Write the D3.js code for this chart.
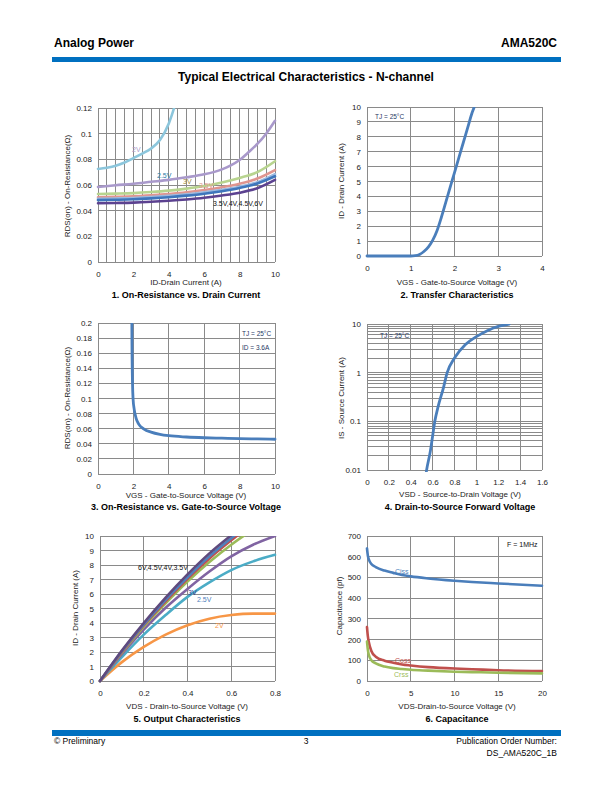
<!DOCTYPE html>
<html><head><meta charset="utf-8">
<script src="https://cdn.jsdelivr.net/npm/d3@7"></script>
<style>
body{margin:0;background:#fff;}
svg{display:block;}
text{font-family:"Liberation Sans",Arial,sans-serif;}
</style></head>
<body>
<script>
// ---------- DATA ----------
// Chart 1: On-Resistance vs Drain Current
const c1X = [0,1,2,3,4,5,6,7,8,9,10];
const c1_2V_x = [0,0.5,1,1.5,2,2.5,3,3.5,4,4.3,4.5];
const c1_2V   = [0.0725,0.0735,0.075,0.0775,0.081,0.0845,0.0885,0.095,0.108,0.12,0.13];
const c1_25V_x = [0,1,2,3,4,5,6,7,7.5,8,8.5,9,9.5,10];
const c1_25V   = [0.0585,0.0598,0.061,0.0625,0.064,0.066,0.0683,0.0722,0.0753,0.0795,0.0855,0.092,0.100,0.110];
const c1_3V   = [0.053,0.0533,0.0537,0.0545,0.0556,0.0572,0.0592,0.062,0.0655,0.070,0.0785];
const c1_35V  = [0.0505,0.0508,0.0512,0.052,0.053,0.0543,0.0561,0.0583,0.061,0.065,0.0716];
const c1_4V   = [0.0492,0.0495,0.0499,0.0506,0.0515,0.0527,0.0543,0.0562,0.0587,0.0622,0.0685];
const c1_45V  = [0.0482,0.0485,0.0489,0.0496,0.0505,0.0517,0.0532,0.0552,0.0577,0.0612,0.0668];
const c1_6V   = [0.0458,0.046,0.0463,0.0469,0.0477,0.0487,0.050,0.0518,0.054,0.0575,0.064];
const c1YTicks = [0,0.02,0.04,0.06,0.08,0.1,0.12];
const c1XTicks = [0,2,4,6,8,10];

// Chart 2: Transfer characteristics
const c2X = [0,0.5,1.0,1.1,1.2,1.3,1.4,1.5,1.6,1.7,1.8,1.9,2.0,2.1,2.2,2.3,2.4,2.45,2.5];
const c2Y = [0,0,0,0.02,0.1,0.3,0.6,1.05,1.7,2.6,3.6,4.6,5.6,6.6,7.6,8.6,9.6,10,10.5];
const c2XTicks = [0,1,2,3,4];
const c2YTicks = [0,1,2,3,4,5,6,7,8,9,10];

// Chart 3: On-Resistance vs VGS
const c3X = [1.9,1.92,1.95,1.98,2.05,2.15,2.3,2.6,3,3.5,4,5,6,7,8,9,10];
const c3Y = [0.25,0.17,0.12,0.1,0.085,0.074,0.066,0.0595,0.0555,0.0525,0.0507,0.049,0.048,0.0474,0.0468,0.0464,0.046];
const c3XTicks = [0,2,4,6,8,10];
const c3YTicks = [0,0.02,0.04,0.06,0.08,0.1,0.12,0.14,0.16,0.18,0.2];

// Chart 4: Drain-to-source forward voltage (log)
const c4X = [0.53,0.545,0.58,0.6,0.62,0.65,0.7,0.733,0.8,0.9,1.0,1.1,1.2,1.3];
const c4Y = [0.006,0.01,0.025,0.05,0.1,0.2,0.5,1,2.0,3.8,5.5,7.3,8.9,10];
const c4XTicks = [0,0.2,0.4,0.6,0.8,1,1.2,1.4,1.6];
const c4YTicks = [0.01,0.1,1,10];

// Chart 5: Output characteristics
const c5X = [0,0.1,0.2,0.3,0.4,0.5,0.6,0.7,0.8];
const c5_6V  = [0,2.1,4.0,5.75,7.35,8.8,10.05,11.2,12.2];
const c5_45V = [0,2.05,3.9,5.6,7.15,8.6,9.85,11.0,12.0];
const c5_4V  = [0,2.0,3.85,5.5,7.05,8.45,9.7,10.85,11.8];
const c5_35V = [0,1.95,3.75,5.35,6.85,8.2,9.4,10.45,11.4];
const c5_3V  = [0,1.85,3.55,5.05,6.35,7.55,8.6,9.4,10.0];
const c5_25V = [0,1.65,3.2,4.55,5.8,6.8,7.65,8.25,8.7];
const c5_2V  = [0,1.3,2.35,3.2,3.85,4.3,4.55,4.65,4.65];
const c5XTicks = [0,0.2,0.4,0.6,0.8];
const c5YTicks = [0,1,2,3,4,5,6,7,8,9,10];

// Chart 6: Capacitance
const c6X = [0,0.1,0.2,0.5,1,2,3,4,5,7,10,12,15,20];
const c6Ciss = [640,605,588,565,550,533,522,512,505,495,484,478,471,460];
const c6Coss = [260,215,190,145,117,98,88,80,75,67,60,57,52,48];
const c6Crss = [190,150,128,100,85,70,62,58,54,50,45,43,40,37];
const c6XTicks = [0,5,10,15,20];
const c6YTicks = [0,100,200,300,400,500,600,700];

// ---------- DRAW ----------
const svg = d3.select("body").append("svg").attr("width",612).attr("height",792);
svg.append("rect").attr("width",612).attr("height",792).attr("fill","#fff");

// Header / footer
const BLUE = "#0070c0";
svg.append("text").attr("x",54).attr("y",47).attr("font-size",12).attr("font-weight","bold").text("Analog Power");
svg.append("text").attr("x",557).attr("y",47).attr("text-anchor","end").attr("font-size",12).attr("font-weight","bold").text("AMA520C");
svg.append("rect").attr("x",52).attr("y",57).attr("width",509).attr("height",5).attr("fill",BLUE);
svg.append("text").attr("x",306).attr("y",81).attr("text-anchor","middle").attr("font-size",12).attr("font-weight","bold").text("Typical Electrical Characteristics - N-channel");
svg.append("rect").attr("x",52).attr("y",730).attr("width",509).attr("height",6).attr("fill",BLUE);
svg.append("text").attr("x",54).attr("y",744).attr("font-size",8.5).text("© Preliminary");
svg.append("text").attr("x",306).attr("y",744).attr("text-anchor","middle").attr("font-size",8.5).text("3");
svg.append("text").attr("x",557).attr("y",744).attr("text-anchor","end").attr("font-size",8.5).text("Publication Order Number:");
svg.append("text").attr("x",557).attr("y",756).attr("text-anchor","end").attr("font-size",8.5).text("DS_AMA520C_1B");

let clipId = 0;
function panel(o){
  const g = svg.append("g");
  const x = d3.scaleLinear().domain(o.xd).range([o.l,o.r]);
  const y = (o.log ? d3.scaleLog() : d3.scaleLinear()).domain(o.yd).range([o.b,o.t]);
  const gridC = o.gridColor || "#8a8a8a";
  // grid
  g.selectAll(null).data(o.xGrid).join("line")
    .attr("x1",d=>x(d)).attr("x2",d=>x(d)).attr("y1",o.t).attr("y2",o.b)
    .attr("stroke",gridC).attr("stroke-width",1).attr("shape-rendering","crispEdges");
  g.selectAll(null).data(o.yGrid).join("line")
    .attr("y1",d=>y(d)).attr("y2",d=>y(d)).attr("x1",o.l).attr("x2",o.r)
    .attr("stroke",gridC).attr("stroke-width",1).attr("shape-rendering","crispEdges");
  // axes
  const ax = g.append("g").attr("transform",`translate(0,${o.b})`)
    .call(d3.axisBottom(x).tickValues(o.xTicks).tickSize(0).tickPadding(o.xPad||9).tickFormat(o.xFmt||(d=>d)));
  const ay = g.append("g").attr("transform",`translate(${o.l},0)`)
    .call(d3.axisLeft(y).tickValues(o.yTicks).tickSize(0).tickPadding(o.yPad||6).tickFormat(o.yFmt||(d=>d)));
  [ax,ay].forEach(a=>{a.select(".domain").remove();
    a.selectAll("text").attr("font-family","Liberation Sans, Arial, sans-serif").attr("font-size",8).attr("fill","#222");});
  // titles
  g.append("text").attr("x",o.xtX).attr("y",o.xtY).attr("text-anchor","middle").attr("font-size",8).attr("fill","#222").text(o.xTitle);
  g.append("text").attr("transform",`translate(${o.ytX},${o.ytY}) rotate(-90)`).attr("text-anchor","middle").attr("font-size",8).attr("fill","#222").text(o.yTitle);
  g.append("text").attr("x",o.ctX).attr("y",o.ctY).attr("text-anchor","middle").attr("font-size",9).attr("font-weight","bold").attr("fill","#000").text(o.cTitle);
  // clip
  const id = "clip"+(clipId++);
  svg.append("clipPath").attr("id",id).append("rect").attr("x",o.l-2).attr("y",o.t).attr("width",o.r-o.l+4).attr("height",o.b-o.t+2);
  const lg = g.append("g").attr("clip-path",`url(#${id})`);
  o.series.forEach(s=>{
    const pts = s.x.map((v,i)=>[v,s.y[i]]);
    lg.append("path").datum(pts)
      .attr("d",d3.line().x(d=>x(d[0])).y(d=>y(d[1])).curve(d3.curveMonotoneX))
      .attr("fill","none").attr("stroke",s.c).attr("stroke-width",s.w||2.6).attr("stroke-linecap","round");
  });
  (o.labels||[]).forEach(t=>{
    g.append("text").attr("x",t.x).attr("y",t.y).attr("font-size",t.fs||7).attr("fill",t.c)
      .attr("font-family",'"Open Sans", "Noto Sans", sans-serif').text(t.t);
  });
  return {x,y};
}

const range = (a,b,s)=>d3.range(a,b+s/2,s);
const fmt2 = d=> d===0?"0":String(+d.toFixed(2));

// Chart 1
panel({l:98,r:275,t:108,b:262,xd:[0,10],yd:[0,0.12],
  xGrid:range(0,10,0.5), yGrid:c1YTicks, xTicks:c1XTicks, yTicks:c1YTicks, yFmt:fmt2,
  xTitle:"ID-Drain Current (A)", xtX:186, xtY:285,
  yTitle:"RDS(on) - On-Resistance(Ω)", ytX:70, ytY:186,
  cTitle:"1. On-Resistance vs. Drain Current", ctX:186, ctY:298,
  series:[
    {x:c1_2V_x,y:c1_2V,c:"#8cc6dc"},
    {x:c1_25V_x,y:c1_25V,c:"#a999cb"},
    {x:c1X,y:c1_3V,c:"#b8d48f"},
    {x:c1X,y:c1_35V,c:"#e0958f"},
    {x:c1X,y:c1_4V,c:"#9cb9de"},
    {x:c1X,y:c1_45V,c:"#3e76bc"},
    {x:c1X,y:c1_6V,c:"#5c4290"}],
  labels:[
    {x:132,y:152,t:"2V",c:"#a999cb"},
    {x:157,y:178,t:"2.5V",c:"#2a7ca6"},
    {x:183,y:184,t:"3V",c:"#9a8b3c"},
    {x:199,y:188,t:"3.5V",c:"#e0958f"},
    {x:213,y:206,t:"3.5V,4V,4.5V,6V",c:"#111"}]
});

// Chart 2
panel({l:367,r:542,t:107,b:256,xd:[0,4],yd:[0,10],
  xGrid:c2XTicks, yGrid:c2YTicks, xTicks:c2XTicks, yTicks:c2YTicks,
  xTitle:"VGS - Gate-to-Source Voltage (V)", xtX:457, xtY:285,
  yTitle:"ID - Drain Current (A)", ytX:344, ytY:181,
  cTitle:"2. Transfer Characteristics", ctX:457, ctY:298,
  series:[{x:c2X,y:c2Y,c:"#4a7ebb",w:2.8}],
  labels:[{x:375,y:119,t:"TJ = 25°C",c:"#1f3864",fs:6.5}]
});

// Chart 3
panel({l:98,r:275,t:323,b:474,xd:[0,10],yd:[0,0.2],
  xGrid:c3XTicks, yGrid:c3YTicks, xTicks:c3XTicks, yTicks:c3YTicks, yFmt:fmt2,
  xTitle:"VGS - Gate-to-Source Voltage (V)", xtX:186, xtY:498,
  yTitle:"RDS(on) - On-Resistance(Ω)", ytX:70, ytY:398,
  cTitle:"3. On-Resistance vs. Gate-to-Source Voltage", ctX:186, ctY:510,
  series:[{x:c3X,y:c3Y,c:"#4a7ebb",w:2.8}],
  labels:[{x:242,y:336,t:"TJ = 25°C",c:"#1f3864",fs:6.5},{x:242,y:350,t:"ID = 3.6A",c:"#1f3864",fs:6.5}]
});

// Chart 4
const c4grid = [];
[0.01,0.1,1].forEach(d=>{for(let k=1;k<10;k++) c4grid.push(d*k);}); c4grid.push(10);
panel({l:367,r:542,t:324,b:470,xd:[0,1.6],yd:[0.01,10],log:true,
  xGrid:c4XTicks, yGrid:c4grid, xTicks:c4XTicks, yTicks:c4YTicks, yFmt:d=>String(d),
  xTitle:"VSD - Source-to-Drain Voltage (V)", xtX:460, xtY:497,
  yTitle:"IS - Source Current (A)", ytX:344, ytY:398,
  cTitle:"4. Drain-to-Source Forward Voltage", ctX:460, ctY:510,
  series:[{x:c4X,y:c4Y,c:"#4a7ebb",w:2.8}],
  labels:[{x:380,y:338,t:"TJ = 25°C",c:"#1f3864",fs:6.5}]
});

// Chart 5
panel({l:100,r:275,t:536,b:681,xd:[0,0.8],yd:[0,10],
  xGrid:c5XTicks, yGrid:c5YTicks, xTicks:c5XTicks, yTicks:c5YTicks,
  xTitle:"VDS - Drain-to-Source Voltage (V)", xtX:187, xtY:709,
  yTitle:"ID - Drain Current (A)", ytX:78, ytY:608,
  cTitle:"5. Output Characteristics", ctX:187, ctY:722,
  series:[
    {x:c5X,y:c5_2V,c:"#f79646"},
    {x:c5X,y:c5_25V,c:"#4bacc6"},
    {x:c5X,y:c5_3V,c:"#8064a2"},
    {x:c5X,y:c5_35V,c:"#9bbb59"},
    {x:c5X,y:c5_4V,c:"#c0504d"},
    {x:c5X,y:c5_45V,c:"#4f81bd"},
    {x:c5X,y:c5_6V,c:"#5f4a7e"}],
  labels:[
    {x:138,y:570,t:"6V,4.5V,4V,3.5V",c:"#111"},
    {x:188,y:595,t:"3V",c:"#3b3b8f"},
    {x:197,y:602,t:"2.5V",c:"#4f81bd"},
    {x:215,y:628,t:"2V",c:"#f79646"}]
});

// Chart 6
panel({l:367,r:542,t:536,b:681,xd:[0,20],yd:[0,700],
  xGrid:c6XTicks, yGrid:c6YTicks, xTicks:c6XTicks, yTicks:c6YTicks,
  xTitle:"VDS-Drain-to-Source Voltage (V)", xtX:457, xtY:709,
  yTitle:"Capacitance (pf)", ytX:342, ytY:606,
  cTitle:"6. Capacitance", ctX:457, ctY:722,
  series:[
    {x:c6X,y:c6Ciss,c:"#4a7ebb"},
    {x:c6X,y:c6Coss,c:"#c0504d"},
    {x:c6X,y:c6Crss,c:"#9bbb59"}],
  labels:[
    {x:395,y:574,t:"Ciss",c:"#4a7ebb"},
    {x:395,y:663,t:"Coss",c:"#c0504d"},
    {x:394,y:677,t:"Crss",c:"#9bbb59"},
    {x:507,y:547,t:"F = 1MHz",c:"#111"}]
});
</script>
</body></html>
